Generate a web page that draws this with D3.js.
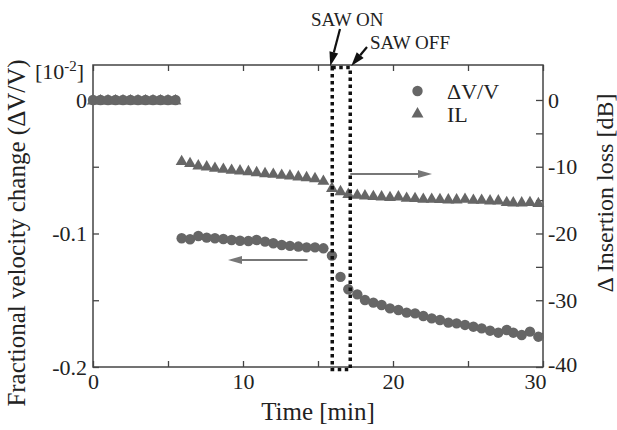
<!DOCTYPE html>
<html><head><meta charset="utf-8">
<script src="https://cdn.jsdelivr.net/npm/d3@7"></script>
<style>
html,body{margin:0;padding:0;background:#fff;}
text{font-family:"Liberation Serif","Times New Roman",serif;fill:#222;}
</style></head>
<body>
<svg id="chart" width="617" height="430"></svg>
<script>
// ---- data ----
const time = [0,0.5,1,1.5,2,2.5,3,3.5,4,4.5,5,5.5,
  5.91,6.47,7.02,7.58,8.13,8.69,9.24,9.8,10.36,10.91,11.47,12.02,12.58,13.13,13.69,14.24,14.8,15.36,
  15.93,16.5,
  17.02,17.62,18.13,18.69,19.24,19.8,20.36,20.91,21.47,22.02,22.58,23.13,23.69,24.24,24.8,25.36,25.91,26.47,27.02,27.58,28.02,28.58,29.13,29.69];
const dvv = [0,0,0,0,0,0,0,0,0,0,0,0,
  -0.1036,-0.1043,-0.1019,-0.1031,-0.1036,-0.1041,-0.1049,-0.1054,-0.1056,-0.1049,-0.1061,-0.1073,-0.1086,-0.1093,-0.1098,-0.1104,-0.1104,-0.1111,
  -0.1166,-0.1325,
  -0.1418,-0.1456,-0.1498,-0.1518,-0.1536,-0.1561,-0.1573,-0.1593,-0.1598,-0.1618,-0.1636,-0.1648,-0.1668,-0.1673,-0.1685,-0.1698,-0.1711,-0.1728,-0.1743,-0.1723,-0.1743,-0.1760,-0.1735,-0.1773];
const il = [0,0,0,0,0,0,0,0,0,0,0,0,
  -9.09,-9.39,-9.74,-9.89,-10.09,-10.24,-10.39,-10.49,-10.59,-10.74,-10.89,-10.99,-11.14,-11.24,-11.39,-11.49,-11.64,-12.05,
  -13.1,-13.6,
  -14.0,-14.13,-14.23,-14.33,-14.38,-14.48,-14.38,-14.58,-14.63,-14.73,-14.73,-14.78,-14.83,-14.83,-14.73,-14.88,-14.88,-14.98,-14.98,-15.23,-15.28,-15.28,-15.23,-15.38];
const xTicks = [0,10,20,30];
const xMinorTicks = [0,5,10,15,20,25,30];
const leftTicks = [0,-0.1,-0.2];
const leftMinorTicks = [0,-0.05,-0.1,-0.15,-0.2];
const rightTicks = [0,-10,-20,-30,-40];
const rightMinorTicks = [0,-5,-10,-15,-20,-25,-30,-35,-40];
const sawOn = 15.95, sawOff = 17.15;
const seriesNames = ["\u0394V/V","IL"];

// ---- layout ----
const svg = d3.select("#chart");
const L = 93, R = 543, T = 65, B = 367;
const x = d3.scaleLinear().domain([0,30]).range([L,R]);
const yL = d3.scaleLinear().domain([-0.2,0.0262]).range([B,T]);
const yR = d3.scaleLinear().domain([-40,5.24]).range([B,T]);
const axisCol = "#444", markCol = "#666";

const fmt = d => d === 0 ? "0" : String(d);

// frame
svg.append("rect").attr("x",L).attr("y",T).attr("width",R-L).attr("height",B-T)
  .attr("fill","none").attr("stroke",axisCol).attr("stroke-width",1.5);

function styleAxis(g){
  g.select(".domain").remove();
  g.selectAll(".tick line").attr("stroke",axisCol).attr("stroke-width",1.3);
  g.selectAll(".tick text").style("font-size","22px").attr("fill","#222")
    .style("font-family","'Liberation Serif','Times New Roman',serif");
}
// bottom
svg.append("g").attr("transform",`translate(0,${B})`)
  .call(d3.axisBottom(x).tickValues(xMinorTicks).tickSize(-6).tickFormat(""))
  .call(styleAxis);
svg.append("g").attr("transform",`translate(0,${B})`)
  .call(d3.axisBottom(x).tickValues(xTicks).tickSize(0).tickPadding(6).tickFormat(fmt))
  .call(styleAxis)
  .call(g => g.selectAll(".tick text").filter(d => d === 30).attr("text-anchor","end").attr("dx",3));
// top
svg.append("g").attr("transform",`translate(0,${T})`)
  .call(d3.axisTop(x).tickValues(xMinorTicks).tickSize(-6).tickFormat(""))
  .call(styleAxis);
// left
svg.append("g").attr("transform",`translate(${L},0)`)
  .call(d3.axisLeft(yL).tickValues(leftMinorTicks).tickSize(-6).tickFormat(""))
  .call(styleAxis);
svg.append("g").attr("transform",`translate(${L},0)`)
  .call(d3.axisLeft(yL).tickValues(leftTicks).tickSize(0).tickPadding(6).tickFormat(fmt))
  .call(styleAxis);
// right
svg.append("g").attr("transform",`translate(${R},0)`)
  .call(d3.axisRight(yR).tickValues(rightMinorTicks).tickSize(-7).tickFormat(""))
  .call(styleAxis);
svg.append("g").attr("transform",`translate(${R},0)`)
  .call(d3.axisRight(yR).tickValues(rightTicks).tickSize(0).tickPadding(5).tickFormat(fmt))
  .call(styleAxis)
  .call(g => g.selectAll(".tick text").filter(d => d === -40).attr("dy","0.2em"));

// markers
const tri = d3.symbol().type(d3.symbolTriangle).size(62);
svg.append("g").selectAll("path").data(time.map((t,i)=>[t,il[i]])).join("path")
  .attr("d",tri).attr("transform",d=>`translate(${x(d[0])},${yR(d[1])+1})`).attr("fill",markCol);
svg.append("g").selectAll("circle").data(time.map((t,i)=>[t,dvv[i]])).join("circle")
  .attr("cx",d=>x(d[0])).attr("cy",d=>yL(d[1])).attr("r",5.2).attr("fill",markCol);

// dotted box
svg.append("rect").attr("x",x(sawOn)).attr("y",T+2.5).attr("width",x(sawOff)-x(sawOn)).attr("height",B-T)
  .attr("fill","none").attr("stroke","#111").attr("stroke-width",3.5).attr("stroke-dasharray","3.5,3.5");

// arrows
function arrow(x1,y1,x2,y2,col,w,hl,hw){
  const a = Math.atan2(y2-y1,x2-x1);
  const bx = x2 - hl*Math.cos(a), by = y2 - hl*Math.sin(a);
  svg.append("line").attr("x1",x1).attr("y1",y1).attr("x2",bx).attr("y2",by)
    .attr("stroke",col).attr("stroke-width",w);
  const px = -Math.sin(a)*hw/2, py = Math.cos(a)*hw/2;
  svg.append("path").attr("d",`M${x2},${y2}L${bx+px},${by+py}L${bx-px},${by-py}Z`).attr("fill",col);
}
arrow(x(14.3),260,x(9),260,"#777",2,14,8);
arrow(x(17.15),174,x(22.6),174,"#777",2,14,8);
arrow(340,29,x(sawOn)-2,T+1,"#111",2.2,14,9);
arrow(367,47,x(sawOff)+1,T+1,"#111",2.2,14,9);

svg.append("text").attr("x",311).attr("y",26).style("font-size","19px").text("SAW ON");
svg.append("text").attr("x",370).attr("y",49).style("font-size","19px").text("SAW OFF");

// legend
svg.append("circle").attr("cx",417.5).attr("cy",91).attr("r",5.2).attr("fill",markCol);
svg.append("path").attr("d",tri).attr("transform","translate(417.5,114)").attr("fill",markCol);
svg.append("text").attr("x",447).attr("y",99).style("font-size","22px").text(seriesNames[0]);
svg.append("text").attr("x",447).attr("y",122).style("font-size","22px").text(seriesNames[1]);

// axis titles
svg.append("text").attr("x",(L+R)/2).attr("y",420).attr("text-anchor","middle").style("font-size","25px").text("Time [min]");
svg.append("text").attr("transform","translate(25,233) rotate(-90)").attr("text-anchor","middle")
  .style("font-size","25px").text("Fractional velocity change (\u0394V/V)");
svg.append("text").attr("transform","translate(613,193) rotate(-90)").attr("text-anchor","middle")
  .style("font-size","24px").text("\u0394 Insertion loss [dB]");
const unit = svg.append("text").attr("x",35).attr("y",79).style("font-size","22px");
unit.append("tspan").text("[10");
unit.append("tspan").attr("dy",-8).style("font-size","15px").text("-2");
unit.append("tspan").attr("dy",8).text("]");
</script>
</body></html>
